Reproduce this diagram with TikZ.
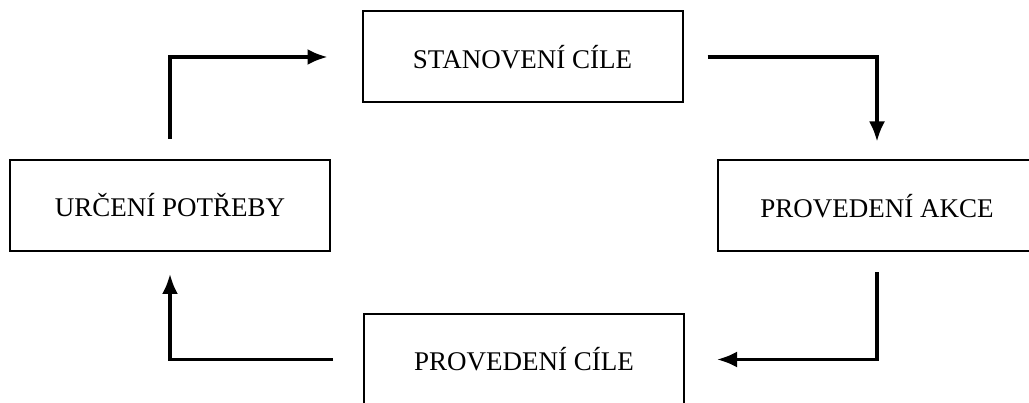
\documentclass[tikz,border=0pt]{standalone}
\usepackage{fontspec}
\setmainfont{Liberation Serif}
\usetikzlibrary{arrows.meta}

\begin{document}
\begin{tikzpicture}[x = 1pt, y = -1pt]
\tikzstyle{BoxStyle} = [draw, line width = 2pt, minimum width = 320pt, minimum height = 91pt, inner sep = 0pt, font = \fontsize{27}{30}\selectfont]
\tikzstyle{ArrowStyle} = [line width = 3.2pt, -{Latex[length = 20pt, width = 16pt]}]
\useasboundingbox (0, 0) rectangle (1029, 403);
\node[BoxStyle] (urceni) at (170, 205.5) {URČENÍ POTŘEBY};
\node[BoxStyle] (stanoveni) at (522.5, 57) {STANOVENÍ CÍLE};
\node[BoxStyle, minimum width = 318pt] (akce) at (877, 206) {PROVEDENÍ AKCE};
\node[BoxStyle] (cile) at (524, 359.5) {PROVEDENÍ CÍLE};
\draw[ArrowStyle, shorten <= 20pt, shorten >= 34pt] (urceni.north) |- (stanoveni.west);
\draw[ArrowStyle, shorten <= 24pt, shorten >= 18pt] (stanoveni.east) -| (akce.north);
\draw[ArrowStyle, shorten <= 20pt, shorten >= 32pt] (akce.south) |- (cile.west -| cile.east);
\draw[ArrowStyle, shorten <= 30pt, shorten >= 22pt] (cile.west) -| (urceni.south);
\end{tikzpicture}
\end{document}
